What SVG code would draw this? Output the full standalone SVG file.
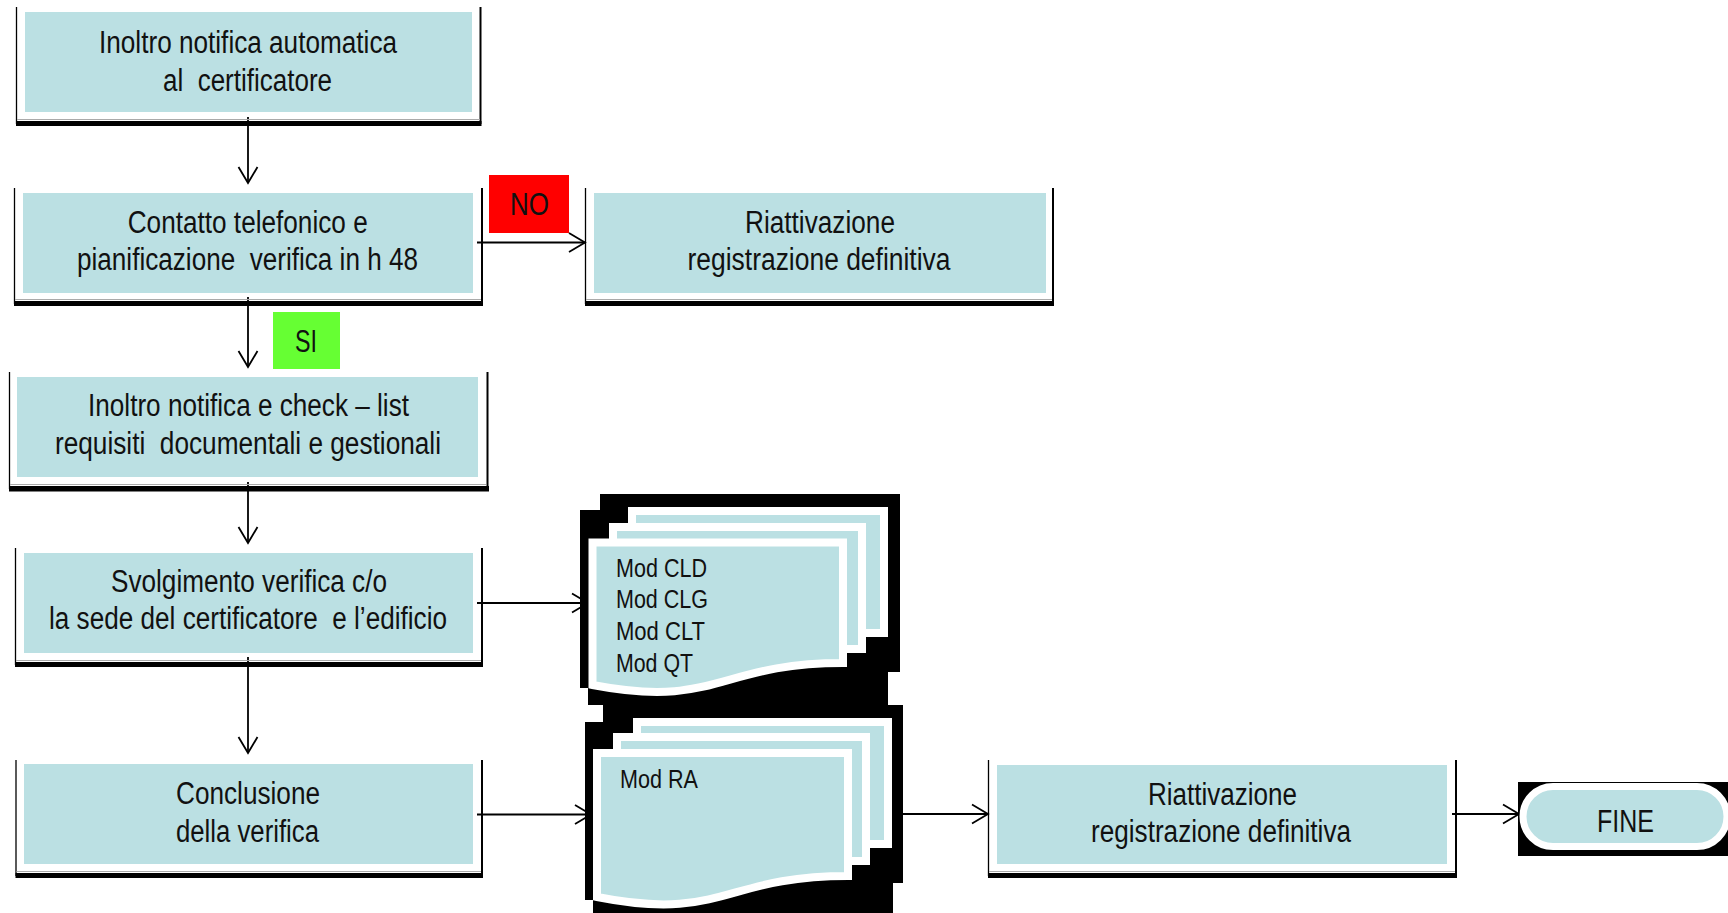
<svg xmlns="http://www.w3.org/2000/svg" width="1728" height="913" viewBox="0 0 1728 913">
<defs>
<style>
.teal{fill:#BBE0E3}
.t{font-family:"Liberation Sans",Arial,sans-serif;font-size:31px;fill:#111;text-anchor:middle;white-space:pre}
.s{font-family:"Liberation Sans",Arial,sans-serif;font-size:25px;fill:#111;text-anchor:start}
.lft{stroke:#000;stroke-width:1.3;fill:none}
.rgt{stroke:#000;stroke-width:2;fill:none}
.bar{fill:#000}
.gl{stroke:#aaa;stroke-width:1;fill:none}
.doc{fill:#BBE0E3;stroke:#fff;stroke-width:8;stroke-linejoin:miter}
.con{stroke:#000;stroke-width:1.8;fill:none;marker-end:url(#arr)}
</style>
<marker id="arr" markerUnits="userSpaceOnUse" markerWidth="40" markerHeight="40" refX="0" refY="0" orient="auto" overflow="visible">
<path d="M-16,-9.5 L0,0 L-16,9.5" fill="none" stroke="#000" stroke-width="1.8"/>
</marker>
</defs>
<rect width="1728" height="913" fill="#fff"/>

<g id="connectors">
<line class="con" x1="248" y1="117" x2="248" y2="183"/>
<line class="con" x1="248" y1="297" x2="248" y2="367"/>
<line class="con" x1="248" y1="482" x2="248" y2="543"/>
<line class="con" x1="248" y1="657" x2="248" y2="753"/>
<line class="con" x1="477" y1="242.5" x2="585" y2="242.5"/>
<line class="con" x1="477" y1="603" x2="588" y2="603"/>
<line class="con" x1="477" y1="814.5" x2="591" y2="814.5"/>
<line class="con" x1="886" y1="814" x2="988" y2="814"/>
<line class="con" x1="1452" y1="814" x2="1519" y2="814"/>
</g>

<g id="n1">
<rect class="teal" x="25" y="12" width="447" height="100"/>
<line class="lft" x1="16.5" y1="7" x2="16.5" y2="124"/>
<line class="rgt" x1="480.5" y1="7" x2="480.5" y2="124"/>
<line class="gl" x1="17" y1="119.5" x2="480" y2="119.5"/>
<rect class="bar" x="16" y="121" width="465.5" height="5"/>
<text class="t" x="248" y="53" textLength="298" lengthAdjust="spacingAndGlyphs">Inoltro notifica automatica</text>
<text class="t" x="247.5" y="91" textLength="169" lengthAdjust="spacingAndGlyphs">al  certificatore</text>
</g>

<g id="n2">
<rect class="teal" x="23" y="193" width="450" height="100"/>
<line class="lft" x1="14.5" y1="188" x2="14.5" y2="304"/>
<line class="rgt" x1="482" y1="188" x2="482" y2="304"/>
<line class="gl" x1="15" y1="299.5" x2="481" y2="299.5"/>
<rect class="bar" x="14" y="301" width="469" height="5"/>
<text class="t" x="247.7" y="233" textLength="240" lengthAdjust="spacingAndGlyphs">Contatto telefonico e</text>
<text class="t" x="247.5" y="270" textLength="341" lengthAdjust="spacingAndGlyphs">pianificazione  verifica in h 48</text>
</g>

<g id="no">
<rect x="489" y="175" width="80" height="58" fill="#FF0000"/>
<text class="t" x="529.5" y="215" textLength="39" lengthAdjust="spacingAndGlyphs">NO</text>
</g>

<g id="n3">
<rect class="teal" x="594" y="193" width="452" height="100"/>
<line class="lft" x1="585.5" y1="188" x2="585.5" y2="304"/>
<line class="rgt" x1="1053" y1="188" x2="1053" y2="304"/>
<line class="gl" x1="586" y1="299.5" x2="1052" y2="299.5"/>
<rect class="bar" x="585" y="301" width="469" height="5"/>
<text class="t" x="820" y="233" textLength="150" lengthAdjust="spacingAndGlyphs">Riattivazione</text>
<text class="t" x="819" y="270" textLength="263" lengthAdjust="spacingAndGlyphs">registrazione definitiva</text>
</g>

<g id="si">
<rect x="273" y="312" width="67" height="57" fill="#66FF33"/>
<text class="t" x="306" y="352" textLength="22" lengthAdjust="spacingAndGlyphs">SI</text>
</g>

<g id="n4">
<rect class="teal" x="17" y="377" width="461" height="100"/>
<line class="lft" x1="9.5" y1="372" x2="9.5" y2="489"/>
<line class="rgt" x1="487.5" y1="372" x2="487.5" y2="489"/>
<line class="gl" x1="10" y1="484.5" x2="486" y2="484.5"/>
<rect class="bar" x="9" y="486" width="480" height="5.5"/>
<text class="t" x="248.5" y="416" textLength="321" lengthAdjust="spacingAndGlyphs">Inoltro notifica e check – list</text>
<text class="t" x="248" y="454" textLength="386" lengthAdjust="spacingAndGlyphs">requisiti  documentali e gestionali</text>
</g>

<g id="n5">
<rect class="teal" x="24" y="553" width="449" height="100"/>
<line class="lft" x1="15.5" y1="548" x2="15.5" y2="665"/>
<line class="rgt" x1="482" y1="548" x2="482" y2="665"/>
<line class="gl" x1="16" y1="660.5" x2="481" y2="660.5"/>
<rect class="bar" x="15" y="662" width="468" height="5"/>
<text class="t" x="249" y="592" textLength="276" lengthAdjust="spacingAndGlyphs">Svolgimento verifica c/o</text>
<text class="t" x="248" y="629" textLength="398" lengthAdjust="spacingAndGlyphs">la sede del certificatore  e l’edificio</text>
</g>

<g id="n6">
<rect class="teal" x="24" y="764" width="449" height="100"/>
<line class="lft" x1="16" y1="760" x2="16" y2="876"/>
<line class="rgt" x1="482" y1="760" x2="482" y2="876"/>
<line class="gl" x1="16.5" y1="871.5" x2="481" y2="871.5"/>
<rect class="bar" x="15.5" y="873" width="467.5" height="5"/>
<text class="t" x="248" y="804" textLength="144" lengthAdjust="spacingAndGlyphs">Conclusione</text>
<text class="t" x="247.5" y="842" textLength="143" lengthAdjust="spacingAndGlyphs">della verifica</text>
</g>

<g id="docs-shadow">
<path fill="#000" d="M600,494 H900 V672 H888 V705 H903 V883 H893 V913 H593 V900 H585 V722 H603 V705 H588 V688 H580 V510 H600 Z"/>
</g>

<g id="docs1">
<rect class="doc" x="632" y="511" width="252" height="122"/>
<rect class="doc" x="613" y="527" width="249" height="122"/>
<path class="doc" d="M592.5,542.5 H843 V663 C718,663 718,709 592.5,685 Z"/>
<text class="s" x="616" y="577" textLength="91" lengthAdjust="spacingAndGlyphs">Mod CLD</text>
<text class="s" x="616" y="608" textLength="92" lengthAdjust="spacingAndGlyphs">Mod CLG</text>
<text class="s" x="616" y="640" textLength="89" lengthAdjust="spacingAndGlyphs">Mod CLT</text>
<text class="s" x="616" y="672" textLength="77" lengthAdjust="spacingAndGlyphs">Mod QT</text>
</g>

<g id="docs2">
<rect class="doc" x="637" y="722" width="251" height="122"/>
<rect class="doc" x="617" y="737" width="249" height="124"/>
<path class="doc" d="M597,753 H848 V876 C723,876 723,922 597,897 Z"/>
<text class="s" x="620" y="788" textLength="78" lengthAdjust="spacingAndGlyphs">Mod RA</text>
</g>

<g id="n7">
<rect class="teal" x="997" y="765" width="450" height="99"/>
<line class="lft" x1="988.5" y1="760" x2="988.5" y2="876"/>
<line class="rgt" x1="1456" y1="760" x2="1456" y2="876"/>
<line class="gl" x1="989" y1="871.5" x2="1455" y2="871.5"/>
<rect class="bar" x="988" y="873" width="469" height="5"/>
<text class="t" x="1222.5" y="805" textLength="149" lengthAdjust="spacingAndGlyphs">Riattivazione</text>
<text class="t" x="1221" y="842" textLength="260" lengthAdjust="spacingAndGlyphs">registrazione definitiva</text>
</g>

<g id="fine">
<rect x="1518" y="782" width="212" height="74" fill="#000"/>
<rect x="1523" y="786.5" width="204" height="60" rx="30" ry="30" fill="#BBE0E3" stroke="#fff" stroke-width="7"/>
<text class="t" x="1625.5" y="832" textLength="57" lengthAdjust="spacingAndGlyphs">FINE</text>
</g>
</svg>
